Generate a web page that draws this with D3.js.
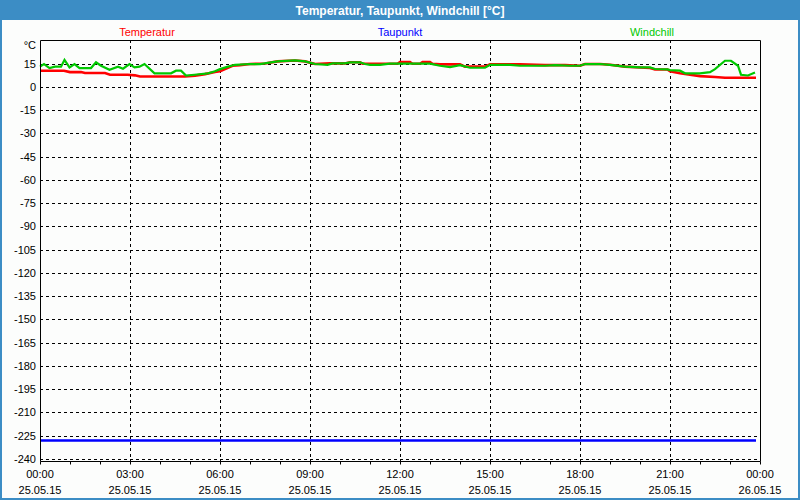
<!DOCTYPE html>
<html><head><meta charset="utf-8">
<script src="https://cdn.jsdelivr.net/npm/d3@7"></script>
<style>
html,body{margin:0;padding:0;background:#fff;}
svg{display:block;font-family:"Liberation Sans",Arial,sans-serif;}
</style></head>
<body><svg id="c" width="800" height="500"></svg>
<script>
const title = "Temperatur, Taupunkt, Windchill [°C]";
const seriesNames = ["Temperatur", "Taupunkt", "Windchill"];
const seriesColors = ["#ff0000", "#0000ff", "#00c800"];
const yTicks = [15,0,-15,-30,-45,-60,-75,-90,-105,-120,-135,-150,-165,-180,-195,-210,-225,-240];
const xTickLabels = [["00:00","25.05.15"],["03:00","25.05.15"],["06:00","25.05.15"],["09:00","25.05.15"],["12:00","25.05.15"],["15:00","25.05.15"],["18:00","25.05.15"],["21:00","25.05.15"],["00:00","26.05.15"]];

const tempTimes = ["00:00","00:48","01:00","01:22","01:30","02:10","02:20","02:55","03:10","03:20","04:50","05:10","05:30","05:50","06:00","06:25","06:40","07:00","07:30","07:55","08:30","08:50","09:10","09:40","10:10","10:20","10:40","10:45","11:55","12:00","12:20","12:25","12:40","12:45","13:00","13:05","13:20","14:00","14:10","14:50","15:00","16:00","16:50","17:30","18:00","18:10","18:40","19:00","19:30","20:00","20:20","20:30","20:55","21:00","21:20","21:40","22:00","22:30","22:50","23:52"];
const tempValues = [10.4,10.4,9.5,9.5,8.9,8.9,7.8,7.8,7.4,6.7,6.7,7.2,8.2,9.6,10.0,13.6,14.0,14.7,15.0,16.4,17.0,16.4,14.7,15.1,15.1,15.8,15.8,14.9,14.9,16.0,16.0,14.9,14.9,16.0,16.0,14.9,14.5,14.5,13.0,13.0,14.5,14.5,14.0,14.0,13.6,14.7,14.7,14.2,13.0,12.5,12.1,11.2,11.2,10.0,8.7,7.8,6.9,6.3,5.8,5.8];

const dewTimes = ["00:00","06:00","12:00","18:00","23:52"];
const dewValues = [-228.2,-228.2,-228.2,-228.2,-228.2];

const chillTimes = ["00:00","00:08","00:19","00:30","00:42","00:49","00:59","01:09","01:19","01:42","01:52","02:02","02:19","02:36","02:46","02:59","03:09","03:19","03:29","03:49","04:22","04:32","04:42","04:52","05:09","05:36","05:50","06:00","06:16","06:30","07:00","07:20","07:55","08:30","08:50","09:10","09:35","09:45","10:10","10:20","10:40","10:50","11:00","11:20","11:40","12:00","12:40","13:00","13:20","13:40","14:00","14:20","14:50","15:00","15:40","16:00","16:50","17:10","17:40","18:00","18:10","18:40","19:00","19:30","20:00","20:20","20:30","20:55","21:00","21:20","21:30","22:00","22:20","22:30","22:50","23:02","23:16","23:22","23:36","23:50"];
const chillValues = [13.0,14.7,12.1,13.0,13.0,17.3,12.5,14.7,12.1,12.1,15.8,13.6,11.0,13.0,11.7,14.7,12.5,13.0,14.7,8.7,8.7,10.4,10.4,7.2,7.8,8.7,10.0,11.4,13.0,14.2,14.7,14.7,16.4,17.0,16.4,14.7,14.2,15.1,15.1,15.8,15.8,14.7,14.2,14.2,14.9,15.0,14.9,14.9,13.6,12.7,14.0,12.3,12.3,14.2,14.2,13.6,13.6,14.0,13.6,13.6,14.7,14.7,14.2,13.0,12.5,12.5,11.5,11.2,10.8,10.4,8.7,8.7,9.5,11.4,16.8,16.8,13.6,7.8,7.3,9.2];

const svg = d3.select("#c");
const W = 800, H = 500;
const L = 40, R = 760, T = 40, B = 461;

// frame
svg.append("rect").attr("x",0).attr("y",0).attr("width",W).attr("height",H).attr("fill","#3c8dc5");
svg.append("rect").attr("x",2).attr("y",20).attr("width",W-4).attr("height",H-22).attr("fill","#fcfdfc");
svg.append("text").attr("x",W/2).attr("y",14.5).attr("text-anchor","middle")
  .attr("fill","#fff").attr("font-weight","bold").attr("font-size",12).text(title);

const base = new Date(2015,4,25,0,0);
const parse = s => { const [h,m] = s.split(":").map(Number); return new Date(2015,4,25,h,m); };
const x = d3.scaleTime().domain([base, new Date(2015,4,26,0,0)]).range([L,R]);
const y = d3.scaleLinear().domain([30.2,-241.4]).range([T,B]);

// grid
const g = svg.append("g");
g.selectAll("line.hg").data(yTicks).join("line")
  .attr("x1",L).attr("x2",R).attr("y1",d=>Math.round(y(d))+0.5).attr("y2",d=>Math.round(y(d))+0.5)
  .attr("stroke","#000").attr("stroke-dasharray","3,3");
const vt = d3.range(1,8).map(i=>new Date(2015,4,25,i*3,0));
g.selectAll("line.vg").data(vt).join("line")
  .attr("x1",d=>Math.round(x(d))+0.5).attr("x2",d=>Math.round(x(d))+0.5).attr("y1",T).attr("y2",B)
  .attr("stroke","#000").attr("stroke-dasharray","3,3");

// series
const line = d3.line().x(d=>x(d[0])).y(d=>y(d[1]));
const mk = (ts, vs) => ts.map((t,i)=>[parse(t), vs[i]]);
svg.append("path").datum(mk(dewTimes,dewValues)).attr("d",line).attr("fill","none").attr("stroke",seriesColors[1]).attr("stroke-width",2.5);
svg.append("path").datum(mk(tempTimes,tempValues)).attr("d",line).attr("fill","none").attr("stroke",seriesColors[0]).attr("stroke-width",2.6);
svg.append("path").datum(mk(chillTimes,chillValues)).attr("d",line).attr("fill","none").attr("stroke",seriesColors[2]).attr("stroke-width",2.2);

// box
svg.append("path").attr("d",`M${L+0.5},${T+0.5}H${R+0.5}V${B+0.5}H${L+0.5}Z`).attr("fill","none").attr("stroke","#000");

// y axis labels
const ya = d3.axisLeft(y).tickValues(yTicks).tickSize(0).tickPadding(4).tickFormat(d=>d);
const yg = svg.append("g").attr("transform",`translate(${L},0)`).call(ya);
yg.select(".domain").remove();
yg.selectAll("text").attr("font-size",11).attr("font-family","Liberation Sans, Arial, sans-serif").attr("fill","#000");
svg.append("text").attr("x",36).attr("y",49).attr("text-anchor","end").attr("font-size",11).attr("fill","#000").text("°C");

// x axis
const xa = d3.axisBottom(x).ticks(d3.timeHour.every(1)).tickSize(3).tickFormat("");
const xg = svg.append("g").attr("transform",`translate(0,${B+0.5})`).call(xa);
xg.select(".domain").remove();
xg.selectAll("line").attr("stroke","#000");
const xl = svg.append("g");
const xlt = d3.range(0,9).map(i=>new Date(2015,4,25,i*3,0));
xl.selectAll("text").data(xlt).join("text")
  .attr("x",d=>x(d)).attr("y",478).attr("text-anchor","middle").attr("font-size",11).attr("fill","#000")
  .each(function(d,i){
    const t = d3.select(this);
    t.append("tspan").attr("x",x(d)).text(xTickLabels[i][0]);
    t.append("tspan").attr("x",x(d)).attr("dy",16).text(xTickLabels[i][1]);
  });

// legend
const legX = [147, 400, 652];
svg.selectAll("text.leg").data(seriesNames).join("text").attr("class","leg")
  .attr("x",(d,i)=>legX[i]).attr("y",36).attr("text-anchor","middle").attr("font-size",11)
  .attr("fill",(d,i)=>seriesColors[i]).text(d=>d);
</script></body></html>
